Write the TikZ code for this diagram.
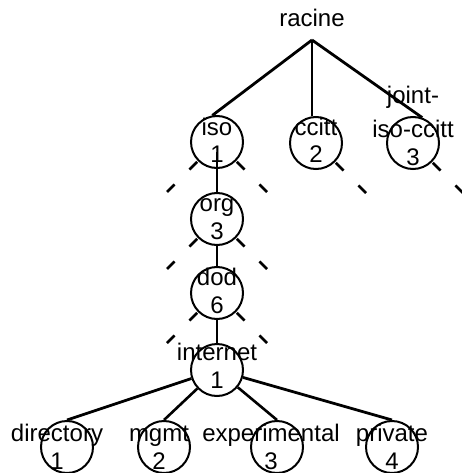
\documentclass[tikz,border=0pt]{standalone}
\usepackage{fontspec}
\setmainfont{Liberation Sans}
\usetikzlibrary{positioning}

\begin{document}
\begin{tikzpicture}[x=1pt, y=-1pt,
    noeud/.style={circle, draw, line width=2pt, minimum size=52pt, inner sep=0pt},
    etiquette/.style={font=\fontsize{24}{28}\selectfont, align=center, inner sep=0pt, anchor=base},
    branche/.style={line width=2.8pt},
    tige/.style={line width=2pt},
    amorce/.style={line width=2.6pt, dash pattern=on 11pt off 21pt, dash phase=31pt}]
  \useasboundingbox (0,0) rectangle (461,473);
  % racine et premier niveau
  \node[etiquette] (racine) at (312,27) {racine};
  \coordinate (fourche) at (312,40);
  \node[noeud] (iso) at (217,142) {};
  \node[noeud] (ccitt) at (316,143) {};
  \node[noeud] (joint) at (413,143) {};
  \node[etiquette] (iso-t) at ([yshift=-21pt]iso.center) {iso\\1};
  \node[etiquette] (ccitt-t) at ([yshift=-20pt]ccitt.center) {ccitt\\2};
  \node[etiquette] (joint-t) at ([yshift=-22pt]joint.center) {joint-\\[6pt]iso-ccitt\\3};
  \draw[branche] (fourche) -- (iso.100);
  \draw[branche] (fourche) -- (fourche |- ccitt.north);
  \draw[branche] (fourche) -- (joint.70);
  % chaine iso.org.dod.internet
  \node[noeud] (org) at (217,219) {};
  \node[noeud] (dod) at (217,293) {};
  \node[noeud] (internet) at (217,370) {};
  \node[etiquette] (org-t) at ([yshift=-20pt]org.center) {org\\3};
  \node[etiquette] (dod-t) at ([yshift=-20pt]dod.center) {dod\\6};
  \node[etiquette] (internet-t) at ([yshift=-18pt]internet.center) {internet\\1};
  \draw[tige] ([yshift=-10pt]iso.center) -- (org);
  \draw[tige] (org) -- (dod);
  \draw[tige] (dod) -- (internet);
  % sous-arbres non detailles
  \foreach \n in {iso,org,dod} {
    \coordinate (\n-g) at ([shift={(-50,50)}]\n.center);
    \draw[amorce] (\n.south west) -- (\n-g);
  }
  \foreach \n in {iso,org,dod,ccitt,joint} {
    \coordinate (\n-d) at ([shift={(50,50)}]\n.center);
    \draw[amorce] (\n.south east) -- (\n-d);
  }
  % fils de internet
  \node[noeud] (directory) at (67,447) {};
  \node[noeud] (mgmt) at (164,447) {};
  \node[noeud] (experimental) at (277,447) {};
  \node[noeud] (private) at (392,447) {};
  \node[etiquette] (directory-t) at ([xshift=-10pt,yshift=-22pt]directory.center) {directory\\1};
  \node[etiquette] (mgmt-t) at ([xshift=-5pt,yshift=-22pt]mgmt.center) {mgmt\\2};
  \node[etiquette] (experimental-t) at ([xshift=-6pt,yshift=-22pt]experimental.center) {experimental\\3};
  \node[etiquette] (private-t) at ([yshift=-22pt]private.center) {private\\4};
  \draw[branche] (internet) -- (directory.north);
  \draw[line width=2.6pt] (internet) -- (mgmt.north);
  \draw[line width=2.6pt] (internet) -- (experimental.north);
  \draw[branche] (internet) -- (private.north);
\end{tikzpicture}
\end{document}
